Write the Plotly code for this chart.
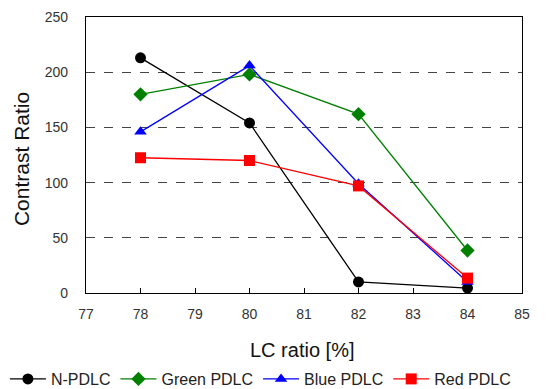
import plotly.graph_objects as go

lc_ratio = [78, 80, 82, 84]
n_pdlc = [213, 154, 10, 4.5]
green_pdlc = [180, 198, 162, 38.5]
blue_pdlc = [146, 206, 99, 10]
red_pdlc = [122.5, 120, 97, 13.5]

x_ticks = [77, 78, 79, 80, 81, 82, 83, 84, 85]
y_ticks = [0, 50, 100, 150, 200, 250]

series = [
    ("N-PDLC", n_pdlc, "black", "circle"),
    ("Green PDLC", green_pdlc, "#008000", "diamond"),
    ("Blue PDLC", blue_pdlc, "#0000FF", "triangle-up"),
    ("Red PDLC", red_pdlc, "#FF0000", "square"),
]

fig = go.Figure()
for name, vals, color, sym in series:
    fig.add_trace(go.Scatter(
        x=lc_ratio, y=vals, name=name, mode="lines+markers",
        line=dict(color=color, width=1.3),
        marker=dict(symbol=sym, color=color, size=11),
    ))

fig.update_layout(
    width=541, height=381,
    margin=dict(l=78, r=27, t=9, b=96, autoexpand=False),
    paper_bgcolor="white", plot_bgcolor="white",
    font=dict(family="Liberation Sans, Arial, sans-serif", color="#222"),
    showlegend=True,
    legend=dict(orientation="h", x=-0.186, xanchor="left", y=-0.25, yanchor="top",
                font=dict(size=16, color="#222"), tracegroupgap=0,
                traceorder="normal", itemwidth=36),
    xaxis=dict(range=[77, 85], tickvals=x_ticks, ticks="inside", ticklen=5,
               tickcolor="black", showline=True, linecolor="black", linewidth=1.2,
               mirror=True, showgrid=False, zeroline=False, automargin=False,
               ticklabelstandoff=8,
               tickfont=dict(size=14, color="#333")),
    yaxis=dict(range=[0, 250], tickvals=y_ticks, ticks="", showline=True,
               linecolor="black", linewidth=1.2, mirror=True, automargin=False,
               ticklabelstandoff=14,
               showgrid=True, gridcolor="#444", griddash="dash", gridwidth=1,
               zeroline=False, tickfont=dict(size=14, color="#333")),
    annotations=[
        dict(text="LC ratio [%]", xref="paper", yref="paper", x=0.495, y=-0.2065,
             xanchor="center", yanchor="middle", showarrow=False,
             font=dict(size=20, color="#111")),
        dict(text="Contrast Ratio", xref="paper", yref="paper", x=-0.148, y=0.487,
             xanchor="center", yanchor="middle", showarrow=False, textangle=-90,
             font=dict(size=21, color="#111")),
    ],
)

fig.write_html("out.html")
